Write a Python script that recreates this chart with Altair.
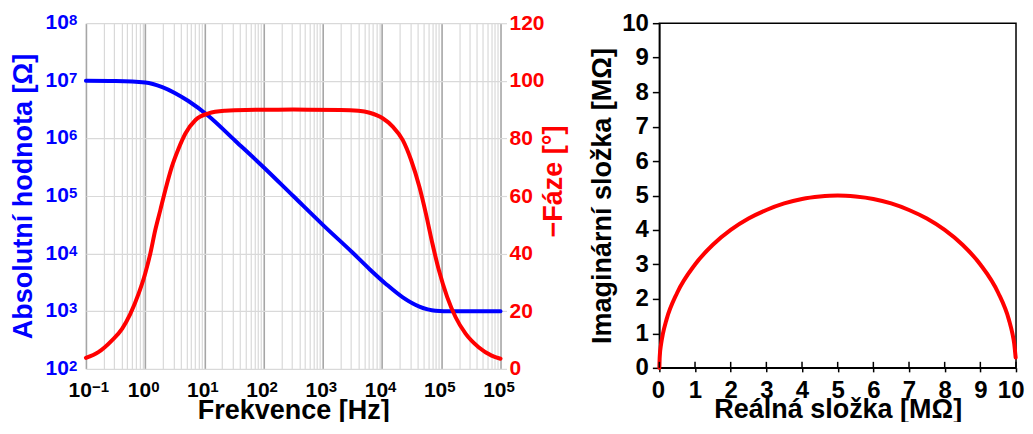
import altair as alt
import pandas as pd

# ---- Bode plot data ----
# |Z| curve: log10(frequency in Hz) and log10(|Z| in ohm)
mag_logf = [-1.0, -0.5, 0.0, 0.29, 0.5, 0.73, 1.07, 1.52, 2.0, 2.5, 3.0, 3.5,
            3.79, 4.07, 4.35, 4.63, 4.9, 5.18, 6.0]
mag_logz = [7.0, 6.995, 6.97, 6.89, 6.79, 6.65, 6.39, 5.96, 5.5, 5.0, 4.5, 4.02,
            3.73, 3.47, 3.24, 3.08, 3.01, 3.0, 3.0]

# -phase curve: log10(frequency in Hz) and degrees
ph_logf = [-1.0, -0.79, -0.56, -0.39, -0.25, -0.11, 0.0, 0.087, 0.17, 0.256, 0.34,
           0.45, 0.565, 0.68, 0.85, 1.07, 1.35, 1.7, 2.5, 3.3, 3.6, 3.79, 4.01,
           4.18, 4.35, 4.49, 4.63, 4.74, 4.85, 4.96, 5.10, 5.24, 5.41, 5.63, 5.85, 6.0]
ph_deg = [3.8, 5.8, 9.9, 13.9, 19.1, 26.1, 33.0, 40.0, 48.1, 55.1, 62.0,
          70.1, 76.5, 81.7, 86.4, 88.7, 89.6, 89.9, 90.0, 89.9, 89.6, 88.9, 87.0,
          84.1, 79.4, 72.5, 63.2, 53.9, 43.5, 34.2, 24.9, 18.0, 12.2, 7.5, 4.6, 3.5]

# ---- Nyquist plot data (MOhm) ----
nyq_re = [0.0, 0.01, 0.05, 0.1, 0.2, 0.5, 1.0, 1.5, 2.0, 2.5, 3.0, 3.5, 4.0, 4.5, 5.0,
          5.5, 6.0, 6.5, 7.0, 7.5, 8.0, 8.5, 9.0, 9.5, 9.8, 9.9, 9.95, 9.99]
nyq_im = [0.0, 0.32, 0.7, 0.99, 1.4, 2.18, 3.0, 3.57, 4.0, 4.33, 4.58, 4.77, 4.9, 4.97, 5.0,
          4.97, 4.9, 4.77, 4.58, 4.33, 4.0, 3.57, 3.0, 2.18, 1.4, 0.99, 0.7, 0.3]

# ---- ticks / labels ----
x_decades = [0.1, 1, 10, 100, 1000, 10000, 100000, 1000000]
x_exps = ["−1", "0", "1", "2", "3", "4", "5", "5"]
y_decades = [100, 1000, 10000, 100000, 1000000, 10000000, 100000000]
y_exps = ["2", "3", "4", "5", "6", "7", "8"]
label_base = "10"
phase_ticks = [0, 20, 40, 60, 80, 100, 120]
nyq_ticks = [0, 1, 2, 3, 4, 5, 6, 7, 8, 9, 10]

FONT = "Liberation Sans"
BLUE = "#0000ff"
RED = "#ff0000"
GRID = "#d9d9d9"
GRID_MAJOR = "#a6a6a6"

W1, H1 = 415, 346
W2, H2 = 357, 345

x_minor = [round(m * d, 6) for d in x_decades[:-1] for m in range(1, 10)] + [x_decades[-1]]
major_test = "indexof([" + ",".join(str(v) for v in x_decades) + "], datum.value) >= 0"

mag_df = pd.DataFrame({"logf": mag_logf, "logz": mag_logz})
ph_df = pd.DataFrame({"logf": ph_logf, "deg": ph_deg})
nyq_df = pd.DataFrame({"re": nyq_re, "im": nyq_im})
tick_df = pd.DataFrame({"re": nyq_ticks})
xlab_df = pd.DataFrame({"f": x_decades, "base": [label_base] * len(x_decades), "exp": x_exps})
ylab_df = pd.DataFrame({"z": y_decades, "base": [label_base] * len(y_decades), "exp": y_exps})

x_scale = alt.Scale(type="log", domain=[0.1, 1000000], nice=False)
ylog_scale = alt.Scale(type="log", domain=[100, 100000000], nice=False)

x_axis = alt.Axis(
    values=x_minor, labels=False, ticks=False, domain=False, grid=True,
    gridColor=alt.condition(major_test, alt.value(GRID_MAJOR), alt.value(GRID)),
    gridWidth=alt.condition(major_test, alt.value(1.6), alt.value(1.2)),
    title="Frekvence [Hz]", titleFont=FONT, titleFontSize=27,
    titleFontWeight="bold", titleColor="black", titlePadding=29,
)
x_enc = alt.X("f:Q", scale=x_scale, axis=x_axis)

mag = alt.Chart(mag_df).transform_calculate(
    f="pow(10, datum.logf)", z="pow(10, datum.logz)"
).mark_line(color=BLUE, strokeWidth=4, interpolate="monotone", strokeCap="round").encode(
    x=x_enc,
    y=alt.Y("z:Q", scale=ylog_scale,
            axis=alt.Axis(values=y_decades, labels=False, ticks=False, domain=False,
                          grid=True, gridColor=GRID, gridWidth=1.2,
                          title="Absolutní hodnota [Ω]", titleFont=FONT, titleFontSize=27,
                          titleFontWeight="bold", titleColor=BLUE,
                          titleBaseline="alphabetic", titleX=-54)),
)

phase = alt.Chart(ph_df).transform_calculate(
    f="pow(10, datum.logf)"
).mark_line(color=RED, strokeWidth=4, interpolate="monotone", strokeCap="round").encode(
    x=x_enc,
    y=alt.Y("deg:Q", scale=alt.Scale(domain=[0, 120], nice=False),
            axis=alt.Axis(orient="right", values=phase_ticks, grid=False, domain=False,
                          ticks=True, tickColor=GRID, tickSize=6, tickWidth=1.2,
                          labelFont=FONT, labelFontSize=21, labelFontWeight="bold",
                          labelColor=RED, labelPadding=2.5,
                          title="−Fáze [°]", titleFont=FONT, titleFontSize=27,
                          titleFontWeight="bold", titleColor=RED, titleAngle=270,
                          titleBaseline="alphabetic", titleX=61, titleY=158)),
)

# tick labels 10^n written as base + raised exponent
xlab_base = alt.Chart(xlab_df).mark_text(
    font=FONT, fontSize=21, fontWeight="bold", align="right", baseline="middle", dx=6
).encode(x=x_enc, y=alt.value(H1 + 22), text="base:N")
xlab_exp = alt.Chart(xlab_df).mark_text(
    font=FONT, fontSize=15, fontWeight="bold", align="left", baseline="middle", dx=6, dy=-4
).encode(x=x_enc, y=alt.value(H1 + 22), text="exp:N")
ylab_base = alt.Chart(ylab_df).mark_text(
    font=FONT, fontSize=21, fontWeight="bold", align="right", baseline="middle", color=BLUE
).encode(y=alt.Y("z:Q", scale=ylog_scale, axis=None), x=alt.value(-17), text="base:N")
ylab_exp = alt.Chart(ylab_df).mark_text(
    font=FONT, fontSize=15, fontWeight="bold", align="left", baseline="middle", color=BLUE, dy=-3
).encode(y=alt.Y("z:Q", scale=ylog_scale, axis=None), x=alt.value(-17), text="exp:N")

left = alt.layer(mag, phase, xlab_base, xlab_exp, ylab_base, ylab_exp).resolve_scale(
    y="independent"
).properties(width=W1, height=H1, view=alt.ViewBackground(stroke="transparent"))

nyq_x_enc = alt.X(
    "re:Q", scale=alt.Scale(domain=[0, 10], nice=False),
    axis=alt.Axis(values=nyq_ticks, format="d", grid=False,
                  domainColor="black", domainWidth=1.5,
                  tickColor="black", tickWidth=1.5, tickSize=4,
                  labelFont=FONT, labelFontSize=24, labelFontWeight="bold",
                  labelColor="black", labelPadding=7, labelFlush=True, labelFlushOffset=8,
                  title="Reálná složka [MΩ]", titleFont=FONT, titleFontSize=27,
                  titleFontWeight="bold", titleColor="black", titlePadding=-6),
)
nyq_line = alt.Chart(nyq_df).mark_line(
    color=RED, strokeWidth=4, interpolate="monotone", strokeCap="round"
).encode(
    x=nyq_x_enc,
    y=alt.Y("im:Q", scale=alt.Scale(domain=[0, 10], nice=False),
            axis=alt.Axis(values=nyq_ticks, format="d", grid=False,
                          domainColor="black", domainWidth=1.5,
                          tickColor="black", tickWidth=1.5, tickSize=7,
                          labelFont=FONT, labelFontSize=24, labelFontWeight="bold",
                          labelColor="black", labelPadding=4, labelFlush=False,
                          title="Imaginární složka [MΩ]", titleFont=FONT, titleFontSize=27,
                          titleFontWeight="bold", titleColor="black",
                          titleBaseline="alphabetic", titleX=-49)),
)
inner_ticks = alt.Chart(tick_df).mark_rule(color="black", strokeWidth=1.5).encode(
    x=nyq_x_enc,
    y=alt.value(H2),
    y2=alt.value(H2 - 6),
)
right = alt.layer(nyq_line, inner_ticks).properties(
    width=W2, height=H2, view=alt.ViewBackground(stroke="black", strokeWidth=1.5)
)

chart = alt.hconcat(left, right, spacing=20).properties(
    padding={"left": 1, "top": 2, "right": 0, "bottom": -3}
).configure(background="white")

chart.save("out.html", embed_options={"renderer": "svg", "actions": False})
